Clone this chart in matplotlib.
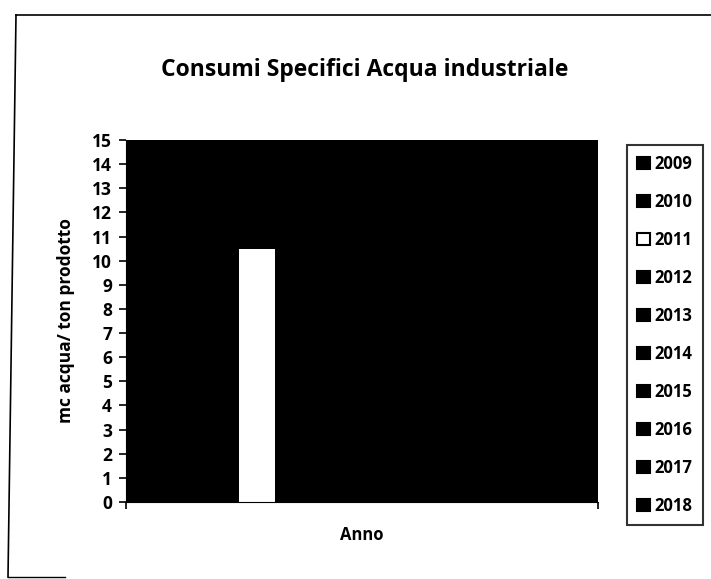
import matplotlib
matplotlib.use("Agg")
import matplotlib.pyplot as plt
from matplotlib.lines import Line2D
import numpy as np

plt.rcParams['font.family'] = ['Open Sans', 'DejaVu Sans']

years = ["2009", "2010", "2011", "2012", "2013", "2014", "2015", "2016", "2017", "2018"]
values = [0, 0, 10.5, 0, 0, 0, 0, 0, 0, 0]
fills = ["black", "black", "white", "black", "black", "black", "black", "black", "black", "black"]
yticks = list(range(0, 16))

W, H = 711, 579
fig = plt.figure(figsize=(W / 100, H / 100), dpi=100)
ax = fig.add_axes([126 / W, (H - 502) / H, (598 - 126) / W, (502 - 140) / H])
ax.set_facecolor("black")

n = len(years)
spacing = 0.089
width = 0.078
handles = []
for i, (yr, v, c) in enumerate(zip(years, values, fills)):
    x = (i - (n - 1) / 2) * spacing
    ax.bar(x, v, width=width, color=c, edgecolor="none", zorder=2)
    handles.append(plt.Rectangle((0, 0), 1, 1, facecolor=c, edgecolor="black", linewidth=1.5))

ax.set_xlim(-0.5, 0.5)
ax.set_ylim(0, 15)
ax.set_yticks(yticks)
ax.set_yticklabels([str(t) for t in yticks], fontweight="bold", fontsize=12.5)
ax.set_xticks([-0.5, 0.5])
ax.set_xticklabels(["", ""])
ax.tick_params(axis="y", direction="out", length=5, width=1.2, pad=5)
ax.tick_params(axis="x", direction="out", length=5, width=1.2)
for s in ax.spines.values():
    s.set_visible(False)
ax.spines["left"].set_visible(True)
ax.spines["bottom"].set_visible(True)

ax.set_ylabel("mc acqua/ ton prodotto", fontweight="bold", fontsize=12.5, labelpad=12)
ax.set_xlabel("Anno", fontweight="bold", fontsize=12, labelpad=9)

fig.text(365 / W, 1 - 70 / H, "Consumi Specifici Acqua industriale",
         ha="center", va="center", fontsize=16.5, fontweight="bold")

leg = fig.legend(handles, years, loc="upper left",
                 bbox_to_anchor=(627 / W, 1 - 145 / H), frameon=True,
                 fancybox=False, edgecolor="black", labelspacing=1.2,
                 handlelength=0.75, handleheight=0.75, handletextpad=0.3,
                 borderpad=0.6, borderaxespad=0.0,
                 prop={"weight": "bold", "size": 12})
leg.get_frame().set_linewidth(1.5)

# scanned page border fragments
fig.add_artist(Line2D([16 / W, 711 / W], [1 - 15 / H, 1 - 15 / H], color="black", lw=1.2))
fig.add_artist(Line2D([16 / W, 8 / W], [1 - 15 / H, 1 - 577 / H], color="black", lw=1.2))
fig.add_artist(Line2D([8 / W, 65 / W], [1 - 577 / H, 1 - 577 / H], color="black", lw=1.0))

fig.savefig("out.png", dpi=100)
